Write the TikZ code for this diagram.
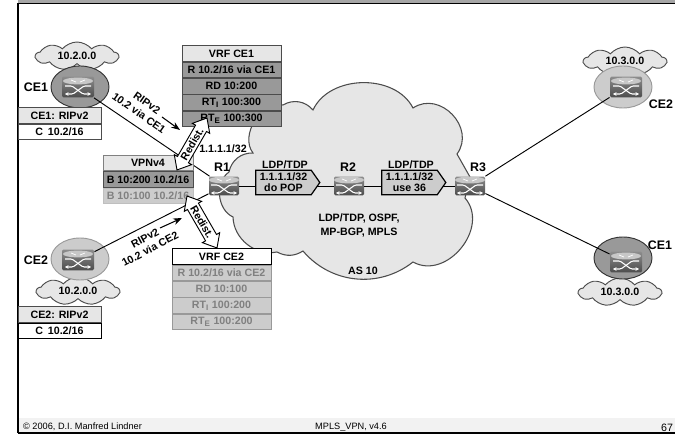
\documentclass[tikz,border=0pt]{standalone}
\usepackage{fontspec}
\setmainfont{Liberation Sans}
\usetikzlibrary{arrows.meta,positioning,calc,shapes.geometric,shapes.symbols,shapes.arrows}
\definecolor{cloudfill}{HTML}{E6E6E6}
\definecolor{rowdark}{HTML}{999999}
\definecolor{rowlight}{HTML}{CCCCCC}
\definecolor{fadetext}{HTML}{808080}
\begin{document}
\begin{tikzpicture}[x=.75pt,y=-.75pt,>=Stealth,line width=.7pt,font=\fontsize{8}{9.5}\selectfont\bfseries,
  head/.style={rectangle,draw=black!70,fill=cloudfill,minimum width=#1*.75pt,minimum height=11.6pt,inner sep=0pt},
  dark/.style={head=#1,fill=rowdark},
  fade/.style={head=#1,fill=rowlight,draw=black!40,text=fadetext},
  plain/.style={head=#1,fill=white,draw=black},
  lan/.style={cloud,cloud puffs=9,cloud puff arc=100,aspect=3.2,draw=black!70,fill=cloudfill,minimum width=62pt,minimum height=21pt,inner sep=0pt},
  site/.style={ellipse,minimum width=43.5pt,minimum height=31.5pt,inner sep=0pt},
  siteon/.style={site,draw=black!80,fill=rowdark},
  siteoff/.style={site,draw=black!40,fill=rowlight},
  routerbox/.style={rectangle,rounded corners=1pt,minimum width=22.5pt,minimum height=14pt,inner sep=0pt,top color=black!45,bottom color=black!70,path picture={
    \begin{scope}[shift={(path picture bounding box.center)}]
    \fill[black!22] (0,-6) ellipse (15 and 3.4);
    \draw[white,line width=.8pt,->,>={Stealth[length=2.6pt,width=2.8pt]}] (-13,-1) -- (-6,-1) -- (5,7) -- (13,7);
    \draw[white,line width=.8pt,->,>={Stealth[length=2.6pt,width=2.8pt]}] (13,-1) -- (6,-1) -- (-5,7) -- (-13,7);
    \draw[white,line width=.5pt] (-7,-7) -- (-2,-5); \draw[white,line width=.5pt] (7,-7) -- (2,-5);
    \end{scope}}},
  edgerouter/.style={routerbox,minimum width=24pt,minimum height=15.5pt},
  lsp/.style={signal,signal to=east,signal pointer angle=110,draw=black,line width=.9pt,fill=rowlight,minimum width=48pt,minimum height=18.5pt,inner sep=0pt,align=center,font=\fontsize{8}{8.4}\selectfont\bfseries},
  redist/.style={double arrow,double arrow head extend=2.5pt,double arrow tip angle=80,draw=black,fill=white,minimum height=45pt,minimum width=15pt,inner sep=1pt,font=\fontsize{8}{8}\selectfont\bfseries},
  biglabel/.style={font=\fontsize{9.3}{10}\selectfont\bfseries},
  footer/.style={font=\fontsize{6.9}{8}\selectfont}]
\useasboundingbox (0,0) rectangle (675,434);
% page frame
\fill[black!35] (18,0) rectangle (675,3);
\fill[black!5] (18,418) rectangle (675,432);
\draw[line width=1.3pt] (18,433) -- (18,3.5) -- (675,3.5);
\draw[line width=1pt] (18,433) -- (675,433);
\node[footer] (copy) at (82.5,427) {© 2006, D.I. Manfred Lindner};
\node[footer] (title) at (351,427) {MPLS\_VPN, v4.6};
\node[footer,font=\fontsize{8}{8}\selectfont] (page) at (667,427.5) {67};
% provider cloud
\draw[black!70,fill=cloudfill,line width=.8pt] (253,153) to[bend left=70] (283,105) to[bend left=40] (313,110)
  to[bend left=64] (413,108) to[bend left=80,looseness=1.3] (457,154) -- (470,177) -- (465,198)
  to[bend left=80,looseness=1.2] (413,262) to[bend left=44] (303,251) to[bend left=30] (277,252)
  to[bend left=50] (233,217) to[bend left=60] (229,172) to[bend left=40] (253,153) -- cycle;
% customer sites
\node[lan] (lanA) at (77,56) {10.2.0.0};
\node[lan] (lanB) at (78,291) {10.2.0.0};
\node[lan] (lanC) at (625,61) {10.3.0.0};
\node[lan] (lanD) at (620,292) {10.3.0.0};
\node[siteon] (siteA) at (80,87) {};
\node[siteoff] (siteB) at (80,259) {};
\node[siteoff] (siteC) at (623,87) {};
\node[siteon] (siteD) at (623,258) {};
% routers
\node[edgerouter] (CEa) at (78,87) {};
\node[edgerouter] (CEb) at (78,260) {};
\node[edgerouter] (CEc) at (626,87) {};
\node[edgerouter] (CEd) at (626,262) {};
\node[routerbox] (R1) at (224,186) {};
\node[routerbox] (R2) at (349,186) {};
\node[routerbox] (R3) at (470,186) {};
% links
\draw (CEa) -- (R1);
\draw (CEb) -- (R1);
\draw (R1) -- (R2);
\draw (R2) -- (R3);
\draw (R3) -- (CEc);
\draw (R3) -- (CEd);
% router labels
\node[biglabel] (nameA) at (36,87) {CE1};
\node[biglabel] (nameB) at (36,260) {CE2};
\node[biglabel] (nameC) at (661,104) {CE2};
\node[biglabel] (nameD) at (660,245) {CE1};
\node[biglabel] (nameR1) at (222,167) {R1};
\node[biglabel] (nameR2) at (348,167) {R2};
\node[biglabel] (nameR3) at (478,167) {R3};
\node (loop) at (223,149) {1.1.1.1/32};
% label switched path
\node[lsp] (popbox) at (283.5,182.5) {1.1.1.1/32\\do POP};
\node[lsp] (swapbox) at (409.5,182.5) {1.1.1.1/32\\use 36};
\node (ldpA) at (285,165) {LDP/TDP};
\node (ldpB) at (411,165) {LDP/TDP};
\node[align=center] (core) at (359,225.5) {LDP/TDP, OSPF,\\[1pt]MP-BGP, MPLS};
\node (as) at (363,271) {AS 10};
% VRF CE1
\node[head=99] (vrfA) at (231.5,53.5) {VRF CE1};
\node[dark=99,below=0pt of vrfA] (vrfAr) {R 10.2/16 via CE1};
\node[dark=99,below=0pt of vrfAr] (vrfAd) {RD 10:200};
\node[dark=99,below=0pt of vrfAd] (vrfAi) {RT\textsubscript{I} 100:300};
\node[dark=99,below=0pt of vrfAi] (vrfAe) {RT\textsubscript{E} 100:300};
% VRF CE2
\node[plain=99,draw=black] (vrfB) at (221.5,256.5) {VRF CE2};
\node[fade=99,below=0pt of vrfB] (vrfBr) {R 10.2/16 via CE2};
\node[fade=99,below=0pt of vrfBr] (vrfBd) {RD 10:100};
\node[fade=99,below=0pt of vrfBd] (vrfBi) {RT\textsubscript{I} 100:200};
\node[fade=99,below=0pt of vrfBi] (vrfBe) {RT\textsubscript{E} 100:200};
% VPNv4
\node[head=90,draw=black!50] (vpn) at (148,163) {VPNv4};
\node[dark=90,below=0pt of vpn] (vpnA) {B 10:200 10.2/16};
\node[fade=90,below=0pt of vpnA,draw=black!25] (vpnB) {B 10:100 10.2/16};
% CE tables
\node[head=83] (tabA) at (59.5,115.5) {CE1: RIPv2};
\node[plain=83,draw=black!70,below=0pt of tabA] (tabAc) {C\, 10.2/16};
\node[head=83] (tabB) at (59.5,314.5) {CE2: RIPv2};
\node[plain=83,below=0pt of tabB] (tabBc) {C\, 10.2/16};
% redistribution
\node[redist,rotate=60] (redA) at (192,144) {Redist.};
\node[redist,rotate=-60] (redB) at (202,222) {Redist.};
% updates
\node[rotate=-35] (ripA) at (147,103) {RIPv2};
\node[rotate=-35] (viaA) at (139,113) {10.2 via CE1};
\node[rotate=28] (ripB) at (145,238) {RIPv2};
\node[rotate=28] (viaB) at (150,249) {10.2 via CE2};
\coordinate (ripAs) at (162,117); \coordinate (ripAe) at (180,130);
\coordinate (ripBs) at (160,228); \coordinate (ripBe) at (182,218);
\draw[->,line width=.8pt] (ripAs) -- (ripAe);
\draw[->,line width=.8pt] (ripBs) -- (ripBe);
\end{tikzpicture}
\end{document}
